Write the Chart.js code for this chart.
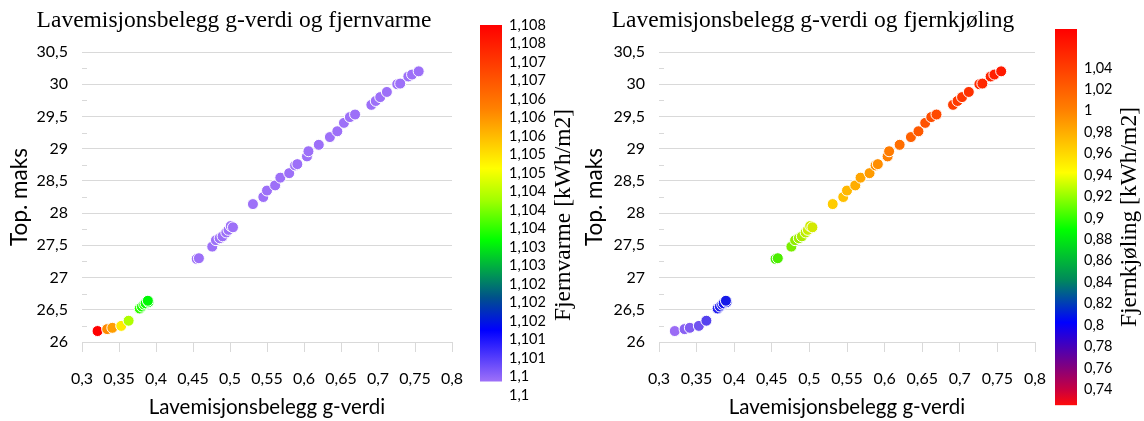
<!DOCTYPE html>
<html>
<head>
<meta charset="utf-8">
<script src="https://cdn.jsdelivr.net/npm/chart.js@4.4.1/dist/chart.umd.min.js"></script>
<style>
  body { margin: 0; background: #fff; }
  #wrap { position: relative; width: 1144px; height: 421px; overflow: hidden; }
  canvas { position: absolute; top: 0; }
</style>
</head>
<body>
<div id="wrap">
  <canvas id="varmeScatter" width="468" height="421" style="left:0"></canvas>
  <canvas id="varmeBar" width="110" height="421" style="left:470px"></canvas>
  <canvas id="kjolingScatter" width="466" height="421" style="left:580px"></canvas>
  <canvas id="kjolingBar" width="98" height="421" style="left:1046px"></canvas>
</div>
<script>
// g-verdi og topptemperatur per simulering
const gVerdi = [0.321, 0.334, 0.341, 0.353, 0.363, 0.378, 0.381, 0.384, 0.386, 0.390, 0.389,
  0.455, 0.458, 0.476, 0.481, 0.486, 0.490, 0.495, 0.498, 0.501, 0.504,
  0.531, 0.545, 0.550, 0.561, 0.568, 0.580, 0.588, 0.591, 0.604, 0.606,
  0.620, 0.635, 0.645, 0.654, 0.662, 0.669,
  0.691, 0.697, 0.703, 0.712, 0.726, 0.730, 0.741, 0.746, 0.755];
const topMaks = [26.17, 26.20, 26.22, 26.25, 26.33, 26.52, 26.55, 26.58, 26.60, 26.62, 26.64,
  27.29, 27.30, 27.48, 27.58, 27.61, 27.64, 27.70, 27.74, 27.80, 27.78,
  28.14, 28.25, 28.35, 28.43, 28.55, 28.62, 28.74, 28.76, 28.88, 28.96,
  29.06, 29.18, 29.27, 29.40, 29.49, 29.53,
  29.68, 29.74, 29.80, 29.88, 30.00, 30.01, 30.12, 30.15, 30.20];
// fjernvarme og fjernkjøling [kWh/m2]
const fjernvarme = [1.1080, 1.1061, 1.1059, 1.1051, 1.1043, 1.1036, 1.1035, 1.1035, 1.1034, 1.1034, 1.1033,
  1.1, 1.1, 1.1, 1.1, 1.1, 1.1, 1.1, 1.1, 1.1, 1.1,
  1.1, 1.1, 1.1, 1.1, 1.1, 1.1, 1.1, 1.1, 1.1, 1.1,
  1.1, 1.1, 1.1, 1.1, 1.1, 1.1,
  1.1, 1.1, 1.1, 1.1, 1.1, 1.1, 1.1, 1.1, 1.1];
const fjernkjoling = [0.740, 0.748, 0.752, 0.760, 0.772, 0.792, 0.795, 0.797, 0.799, 0.801, 0.802,
  0.880, 0.882, 0.896, 0.902, 0.906, 0.910, 0.915, 0.919, 0.922, 0.924,
  0.950, 0.956, 0.960, 0.965, 0.969, 0.974, 0.978, 0.980, 0.986, 0.988,
  0.994, 1.000, 1.004, 1.008, 1.011, 1.013,
  1.020, 1.022, 1.024, 1.027, 1.031, 1.032, 1.035, 1.037, 1.040];

// fargeskala-etiketter
const varmeTicks = [1.1, 1.1004, 1.1008, 1.1012, 1.1016, 1.102, 1.1024, 1.1028, 1.1032, 1.1036, 1.104,
  1.1044, 1.1048, 1.1052, 1.1056, 1.106, 1.1064, 1.1068, 1.1072, 1.1076, 1.108];
const kjolingTicks = [0.74, 0.76, 0.78, 0.8, 0.82, 0.84, 0.86, 0.88, 0.9, 0.92, 0.94, 0.96, 0.98, 1, 1.02, 1.04];

// fargeskalaer (verdi, farge)
const varmeFarger = [[1.1003, '#9d70f8'], [1.1014, '#0000ff'], [1.1021, '#00508c'], [1.10335, '#00ff00'],
  [1.1042, '#a0ff00'], [1.1049, '#ffff00'], [1.1062, '#ff8000'], [1.108, '#ff0000']];
const kjolingPunktFarger = [[0.740, '#9b6cf5'], [0.770, '#5a45ee'], [0.800, '#1515ee'], [0.880, '#44ee00'],
  [0.920, '#ccee00'], [0.950, '#ffcc00'], [0.975, '#ff9900'], [1.000, '#ff6000'], [1.040, '#ff1a00']];
const kjolingFarger = [[0.7251, '#ff0a0a'], [0.74, '#c80040'], [0.7614, '#800080'], [0.8024, '#0000ff'],
  [0.8425, '#008a5a'], [0.8891, '#00ff00'], [0.9422, '#ffff00'], [1.0009, '#ff8000'], [1.0763, '#ff0000']];

const sansFont = 'Lato, "Liberation Sans", sans-serif';
const serifFont = '"Liberation Serif", "DejaVu Serif", serif';

const komma = (v, d) => String(Number(v.toFixed(d))).replace('.', ',');

function hex(c) {
  return [1, 3, 5].map(i => parseInt(c.slice(i, i + 2), 16));
}

function farge(stops, v) {
  if (v <= stops[0][0]) return stops[0][1];
  for (let i = 1; i < stops.length; i++) {
    if (v <= stops[i][0]) {
      const a = hex(stops[i - 1][1]), b = hex(stops[i][1]);
      const t = (v - stops[i - 1][0]) / (stops[i][0] - stops[i - 1][0]);
      return 'rgb(' + a.map((x, k) => Math.round(x + (b[k] - x) * t)).join(',') + ')';
    }
  }
  return stops[stops.length - 1][1];
}

// korte hjelpestreker på innsiden av y-aksen
const minorTicks = {
  id: 'minorTicks',
  beforeDatasetsDraw(chart) {
    const {ctx, chartArea, scales: {y}} = chart;
    ctx.save();
    ctx.strokeStyle = '#d9d9d9';
    ctx.lineWidth = 1;
    for (let v = y.min + 0.25; v < y.max; v += 0.5) {
      const py = Math.round(y.getPixelForValue(v)) + 0.5;
      ctx.beginPath();
      ctx.moveTo(chartArea.left, py);
      ctx.lineTo(chartArea.left + 5, py);
      ctx.stroke();
    }
    ctx.restore();
  }
};

// loddrett tittel ved fargeskalaen
const sideTitle = {
  id: 'sideTitle',
  afterDraw(chart, args, opts) {
    const ctx = chart.ctx;
    ctx.save();
    ctx.translate(opts.x, opts.y);
    ctx.rotate(-Math.PI / 2);
    ctx.font = '23.5px ' + serifFont;
    ctx.fillStyle = '#000';
    ctx.textAlign = 'center';
    ctx.textBaseline = 'middle';
    ctx.fillText(opts.text, 0, 0);
    ctx.restore();
  }
};

function scatter(id, title, colors, pad, yWidth, yTitlePad) {
  new Chart(document.getElementById(id), {
    type: 'scatter',
    data: {
      datasets: [{
        data: gVerdi.map((x, i) => ({x: x, y: topMaks[i]})),
        backgroundColor: colors,
        borderColor: '#ffffff',
        borderWidth: 1,
        pointRadius: 5.5,
        pointHoverRadius: 5.5
      }]
    },
    options: {
      responsive: false,
      animation: false,
      layout: { padding: { left: pad, right: pad } },
      plugins: {
        legend: { display: false },
        tooltip: { enabled: false },
        title: {
          display: true,
          text: title,
          color: '#000',
          font: { family: serifFont, size: 23.5, weight: 'normal' },
          padding: { top: 7, bottom: 16.8 }
        }
      },
      scales: {
        x: {
          type: 'linear',
          min: 0.3,
          max: 0.8,
          ticks: {
            stepSize: 0.05,
            autoSkip: false,
            maxRotation: 0,
            padding: 17,
            color: '#000',
            font: { family: sansFont, size: 16 },
            callback: v => komma(v, 2)
          },
          grid: { drawOnChartArea: false, drawTicks: true, tickLength: 10, color: '#d9d9d9' },
          border: { color: '#d9d9d9' },
          title: {
            display: true,
            text: 'Lavemisjonsbelegg g-verdi',
            color: '#000',
            font: { family: sansFont, size: 20.5 },
            padding: { top: 0, bottom: 1.7 }
          },
          afterFit: s => {
            s.height = 79;
            s.paddingLeft = 0;
            s.paddingRight = 0;
          }
        },
        y: {
          min: 26,
          max: 30.5,
          ticks: {
            stepSize: 0.5,
            padding: 14,
            color: '#000',
            font: { family: sansFont, size: 16 },
            callback: v => komma(v, 1)
          },
          grid: { color: '#d9d9d9', drawTicks: false },
          border: { display: false },
          title: {
            display: true,
            text: 'Top. maks',
            color: '#000',
            font: { family: sansFont, size: 22.5 },
            padding: { top: yTitlePad, bottom: 0 }
          },
          afterFit: s => { s.width = yWidth; }
        }
      }
    },
    plugins: [minorTicks]
  });
}

function colorbar(id, lo, hi, bar, stops, tickValues, decimals, title, padLeft, padTop, padBottom, axisWidth, titleX, titleY) {
  new Chart(document.getElementById(id), {
    type: 'bar',
    data: {
      labels: [''],
      datasets: [{
        data: [bar],
        barPercentage: 1,
        categoryPercentage: 1,
        backgroundColor: c => {
          const chart = c.chart;
          if (!chart.chartArea) return stops[0][1];
          const y = chart.scales.y;
          const v0 = stops[0][0], v1 = stops[stops.length - 1][0];
          const g = chart.ctx.createLinearGradient(0, y.getPixelForValue(v0), 0, y.getPixelForValue(v1));
          stops.forEach(s => g.addColorStop((s[0] - v0) / (v1 - v0), s[1]));
          return g;
        }
      }]
    },
    options: {
      responsive: false,
      animation: false,
      layout: { padding: { left: padLeft, top: padTop, bottom: padBottom, right: 0 } },
      plugins: {
        legend: { display: false },
        tooltip: { enabled: false },
        sideTitle: { text: title, x: titleX, y: titleY }
      },
      scales: {
        x: { display: false },
        y: {
          position: 'right',
          min: lo,
          max: hi,
          afterBuildTicks: s => { s.ticks = tickValues.map(v => ({value: v})); },
          ticks: {
            padding: 7,
            color: '#000',
            autoSkip: false,
            font: { family: sansFont, size: 14.5 },
            callback: v => komma(v, decimals)
          },
          grid: { display: false, drawTicks: false },
          border: { display: false },
          afterFit: s => { s.width = axisWidth; }
        }
      }
    },
    plugins: [sideTitle]
  });
}

scatter('varmeScatter', 'Lavemisjonsbelegg g-verdi og fjernvarme',
  fjernvarme.map(v => farge(varmeFarger, v)), 16, 66, -10);
scatter('kjolingScatter', 'Lavemisjonsbelegg g-verdi og fjernkjøling',
  fjernkjoling.map(v => farge(kjolingPunktFarger, v)), 11, 68, -9.5);

colorbar('varmeBar', 1.1, 1.108, [1.1003, 1.108], varmeFarger, varmeTicks, 3,
  'Fjernvarme [kWh/m2]', 10, 25, 26, 78, 94, 215);
colorbar('kjolingBar', 0.7251, 1.0763, [0.7251, 1.0763], kjolingFarger, kjolingTicks, 2,
  'Fjernkjøling [kWh/m2]', 9, 29, 15, 67, 84, 217);
</script>
</body>
</html>
